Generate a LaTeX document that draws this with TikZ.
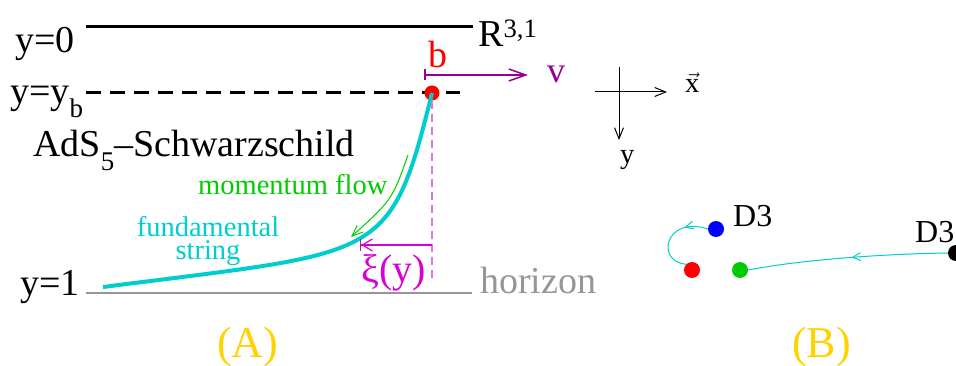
\documentclass[tikz,border=0pt]{standalone}
\usepackage{fontspec}
\setmainfont{Liberation Serif}
\usetikzlibrary{arrows.meta,positioning,calc,decorations.markings}
\definecolor{stringcyan}{RGB}{0,205,205}
\definecolor{flowgreen}{RGB}{0,205,0}
\definecolor{xipink}{RGB}{215,0,215}
\definecolor{dashpink}{RGB}{225,115,225}
\definecolor{velpurple}{RGB}{150,0,150}
\definecolor{labelgold}{RGB}{255,210,0}
\definecolor{horgray}{RGB}{150,150,150}
\newcommand{\lowsub}[1]{\raisebox{-0.36em}{\fontsize{27}{27}\selectfont #1}}

\begin{document}
\begin{tikzpicture}[x=1pt, y=-1pt,
  lbl/.style={inner sep=0pt, anchor=base west, font=\fontsize{38}{40}\selectfont},
  small/.style={inner sep=0pt, anchor=base west, font=\fontsize{28.5}{23}\selectfont},
  panel/.style={inner sep=0pt, anchor=base west, text=labelgold, font=\fontsize{44}{46}\selectfont},
  ball/.style={circle, fill, inner sep=0pt, minimum size=16pt},
  thinarrow/.style={-{Straight Barb[length=11pt,width=9pt]}, line width=1pt},
  midarrow/.style={postaction={decorate}, decoration={markings,
    mark=at position #1 with {\arrow{Straight Barb[length=8pt,width=8pt]}}}}
]
\useasboundingbox (0,0) rectangle (956,366);

% (A) the string in the black hole
\node[lbl] (yzero) at (15,53) {y=0};
\node[lbl] (yb) at (10,104) {y=y\lowsub{b}};
\node[lbl] (yone) at (20,295) {y=1};
\node[lbl] (ads) at (33,157) {AdS\lowsub{5}--Schwarzschild};
\node[lbl] (mink) at (478,47) {R\textsuperscript{3,1}};
\node[lbl, text=horgray] (hor) at (480,293) {horizon};

\coordinate (bdw) at (86,27);  \coordinate (bde) at (473,27);
\coordinate (ybw) at (86,93);  \coordinate (ybe) at (460,93);
\coordinate (how) at (86,293); \coordinate (hoe) at (472,293);
\draw[line width=3pt] (bdw) -- (bde);
\draw[line width=3pt, dash pattern=on 15pt off 9pt] (ybw) -- (ybe);
\draw[line width=2pt, horgray] (how) -- (hoe);

\node[ball, red, minimum size=15pt] (quark) at (432,93) {};
\coordinate (foot) at (103,287);
\draw[stringcyan, line width=4pt] (foot) .. controls (383,251) and (390,263) .. (quark.center);

\coordinate (plumb) at (432,278);
\draw[dashpink, line width=1.5pt, dash pattern=on 8pt off 5pt] (quark.south) -- (plumb);

\node[lbl, red] (blabel) at (428,68) {b};
\coordinate (vstart) at (424,75); \coordinate (vend) at (528,75);
\draw[velpurple, line width=1.5pt, {Bar[width=11pt]}-{Straight Barb[length=17pt,width=12pt]}] (vstart) -- (vend);
\node[lbl, velpurple, font=\fontsize{36}{38}\selectfont] (vlabel) at (547,83) {v};

\coordinate (flowa) at (408,155); \coordinate (flowb) at (351,237);
\draw[flowgreen, thinarrow] (flowa) .. controls (392,200) .. (flowb);
\node[small, flowgreen] (flow) at (198,195) {momentum flow};
\node[small, stringcyan, align=center, anchor=base] (fs) at (208,259) {fundamental\\string};

\coordinate (xia) at (432,245); \coordinate (xib) at (360,245);
\draw[xipink, line width=1.2pt, -{Straight Barb[length=10pt,width=12pt]Bar[width=12pt]}] (xia) -- (xib);
\node[lbl, xipink, font=\fontsize{40}{42}\selectfont] (xi) at (361,283) {ξ(y)};

\node[panel] (A) at (217,357) {(A)};

% axes
\coordinate (axw) at (595,92); \coordinate (axe) at (667,92);
\coordinate (axn) at (619,67); \coordinate (axs) at (619,140);
\draw[thinarrow] (axw) -- (axe);
\draw[thinarrow] (axn) -- (axs);
\node[small] (xlab) at (685,93) {$\vec{\hbox{x}}$};
\node[small] (ylab) at (620,164) {y};

% (B) the D3 branes
\node[ball, blue] (bluebr) at (716,229) {};
\node[ball, red] (redbr) at (692,270) {};
\node[ball, green!80!black] (greenbr) at (740,270) {};
\node[ball, black] (blackbr) at (956,253) {};
\node[lbl, font=\fontsize{32}{34}\selectfont] (d3a) at (733,227) {D3};
\node[lbl, font=\fontsize{32}{34}\selectfont] (d3b) at (915,243) {D3};
\draw[stringcyan, line width=1pt, midarrow=0.3] (bluebr.west) .. controls (665,215) and (655,262) .. (redbr.north west);
\draw[stringcyan, line width=1pt, midarrow=0.48] (blackbr.west) .. controls (880,254) and (800,260) .. (greenbr.east);
\node[panel] (B) at (792,357) {(B)};
\end{tikzpicture}
\end{document}
